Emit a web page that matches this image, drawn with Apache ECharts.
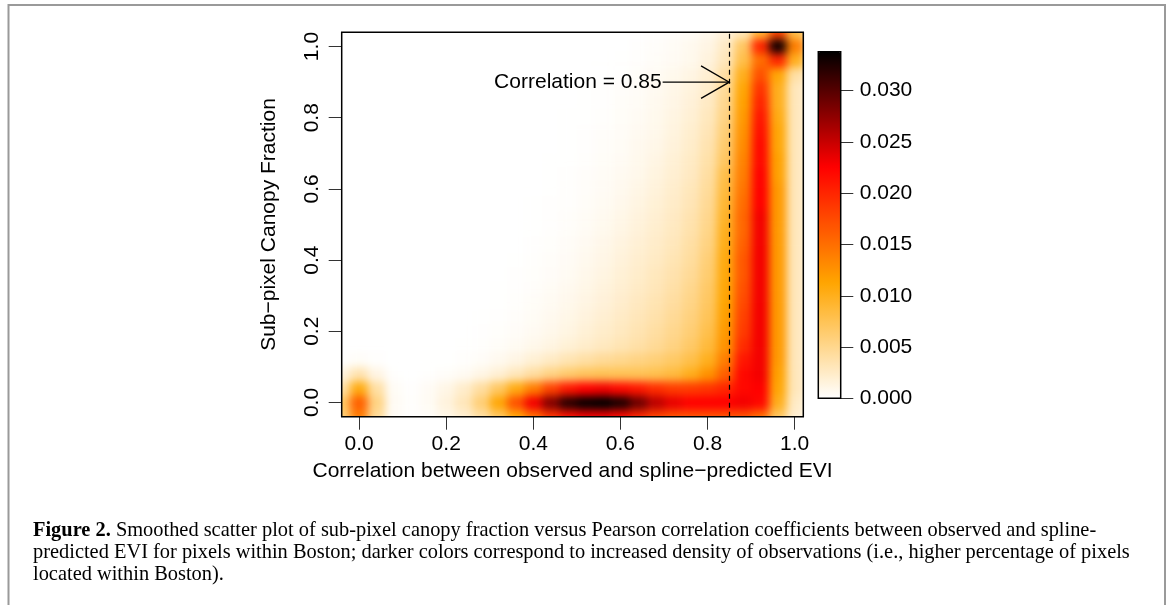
<!DOCTYPE html>
<html>
<head>
<meta charset="utf-8">
<script src="https://cdn.jsdelivr.net/npm/echarts@6/dist/echarts.min.js"></script>
<style>
  html, body { margin: 0; padding: 0; background: #ffffff; width: 1171px; height: 605px; overflow: hidden; }
  #heatClip { position: absolute; overflow: hidden; }
  #heat { position: absolute; filter: blur(4px); }
  #main { position: absolute; left: 0; top: 0; width: 1171px; height: 605px; }
</style>
</head>
<body>
<div id="heatClip"><div id="heat"></div></div>
<div id="main"></div>
<script>
// ---------------- data ----------------
// cell centres of the smoothed-density grid
const X_CELLS = [-0.04, 0.00, 0.04, 0.08, 0.12, 0.16, 0.20, 0.24, 0.28, 0.32, 0.36, 0.40, 0.44, 0.48,
                 0.52, 0.56, 0.60, 0.64, 0.68, 0.72, 0.76, 0.80, 0.84, 0.88, 0.92, 0.96, 1.00, 1.04];
// rows listed from top (y = 1.04) to bottom (y = -0.04)
const Y_CELLS = [1.04, 1.00, 0.96, 0.92, 0.88, 0.84, 0.80, 0.76, 0.72, 0.68, 0.64, 0.60, 0.56, 0.52,
                 0.48, 0.44, 0.40, 0.36, 0.32, 0.28, 0.24, 0.20, 0.16, 0.12, 0.08, 0.04, 0.00, -0.04];
// density values in units of 0.001, one row per Y_CELLS entry, one column per X_CELLS entry
const DENSITY_UNIT = 0.001;
const DENSITY = [
  [0,0,0,0,0,0,0,0,0,0,0,0,0,0,0,0,0,0,0.1,0.2,0.4,0.8,1.6,3,9,18,8,2.5],
  [0,0,0,0,0,0,0,0,0,0,0,0,0,0,0,0,0,0.1,0.2,0.4,0.7,1.2,2.5,7,20,33,14,4],
  [0,0,0,0,0,0,0,0,0,0,0,0,0,0,0,0,0.05,0.15,0.3,0.5,0.8,1.5,3,8,15,20,10,3],
  [0,0,0,0,0,0,0,0,0,0,0,0,0,0,0,0.05,0.1,0.3,0.5,0.8,1.2,2,4,10,17,11,4,1.5],
  [0,0,0,0,0,0,0,0,0,0,0,0,0,0,0.05,0.1,0.2,0.35,0.6,1.0,1.5,2.3,4.5,11,19,10,3,0.8],
  [0,0,0,0,0,0,0,0,0,0,0,0,0,0,0.05,0.1,0.25,0.4,0.7,1.1,1.7,2.6,5,11.5,20,10,3,0.8],
  [0,0,0,0,0,0,0,0,0,0,0,0,0,0.03,0.05,0.15,0.3,0.5,0.8,1.3,1.9,2.9,5.5,12,21,10.5,3,0.8],
  [0,0,0,0,0,0,0,0,0,0,0,0,0,0.05,0.1,0.2,0.35,0.6,0.9,1.4,2.1,3.2,6,12.5,21.5,11,3,0.8],
  [0,0,0,0,0,0,0,0,0,0,0,0,0,0.05,0.1,0.25,0.4,0.7,1.0,1.6,2.3,3.5,6.5,13,22,11,3,0.8],
  [0,0,0,0,0,0,0,0,0,0,0,0,0.03,0.05,0.15,0.3,0.5,0.8,1.2,1.8,2.5,3.8,7,13.5,22,11.5,3,0.8],
  [0,0,0,0,0,0,0,0,0,0,0,0,0.05,0.1,0.2,0.4,0.6,0.9,1.4,2.0,2.7,4.1,8,14,22.5,11.5,3,0.8],
  [0,0,0,0,0,0,0,0,0,0,0,0.02,0.05,0.12,0.25,0.45,0.7,1.1,1.6,2.2,3.0,4.4,8.5,14.5,22.5,12,3,0.8],
  [0,0,0,0,0,0,0,0,0,0,0,0.03,0.07,0.15,0.3,0.55,0.85,1.3,1.8,2.4,3.2,4.7,9,15,22.5,12,3,0.8],
  [0,0,0,0,0,0,0,0,0,0,0,0.03,0.1,0.2,0.4,0.65,1.0,1.5,2.0,2.6,3.5,5.0,9.5,15.5,23,12,3,0.8],
  [0,0,0,0,0,0,0,0,0,0,0,0.05,0.13,0.28,0.5,0.8,1.2,1.7,2.2,2.8,3.7,5.3,10,15.5,23,12,3,0.8],
  [0,0,0,0,0,0,0,0,0,0,0.02,0.08,0.18,0.35,0.6,0.95,1.4,1.9,2.4,3.0,4.0,5.6,10.3,16,23,12,3,0.8],
  [0,0,0,0,0,0,0,0,0,0,0.04,0.12,0.25,0.45,0.75,1.1,1.6,2.1,2.6,3.3,4.3,6.0,10.6,16.5,23,12,3,0.8],
  [0,0,0,0,0,0,0,0,0,0.02,0.07,0.16,0.32,0.55,0.9,1.3,1.8,2.3,2.9,3.6,4.6,6.3,10.8,16.5,23,12,3,0.8],
  [0,0,0,0,0,0,0,0,0,0.04,0.1,0.22,0.42,0.7,1.05,1.5,2.0,2.5,3.1,3.9,5.0,6.7,11,17,23,12,3,0.8],
  [0,0,0,0,0,0,0,0,0.02,0.06,0.15,0.3,0.55,0.85,1.25,1.7,2.2,2.8,3.4,4.2,5.3,7.0,11.3,17.5,23,12,3,0.8],
  [0,0,0,0,0,0,0,0,0.04,0.1,0.22,0.42,0.7,1.05,1.5,2.0,2.5,3.1,3.7,4.6,5.7,7.4,11.6,18,23,12,3,0.8],
  [0,0,0,0,0,0,0,0.02,0.07,0.16,0.33,0.58,0.9,1.3,1.8,2.3,2.8,3.4,4.1,5.0,6.1,7.9,12,18.5,23,12,3,0.8],
  [0,0,0,0,0,0,0.02,0.05,0.14,0.3,0.55,0.9,1.3,1.8,2.3,2.8,3.3,3.9,4.6,5.5,6.7,8.6,12.5,19.5,23,12,3,0.8],
  [0.1,0.3,0.1,0,0,0.05,0.05,0.15,0.35,0.7,1.2,1.9,2.6,3.4,4.0,4.6,5.0,5.5,6.0,6.8,8,10,14,21,23,12,3,0.8],
  [1.5,3.5,1.2,0.1,0,0.1,0.25,0.55,1.1,1.9,3,4.2,5.5,6.5,7.2,7.5,7.5,7.5,7.8,8.5,10,12.5,16,22,23,11.5,3,0.8],
  [4,10.5,4,0.4,0.1,0.45,1.1,2.3,4.2,7,10.5,14,18,21,22.5,23,22,21,19.5,18.5,18.5,19,20,22,22.5,11,3,0.8],
  [7,16,5.5,0.5,0.15,0.5,1.5,3,6,11,17,23,28,32,33.5,33.8,32.5,29,25.5,23.5,22.5,22.5,22.5,23,22,10,2.5,0.6],
  [6,14,4.5,0.4,0.1,0.3,1,2,4,7,11,15,19,21.5,23,23,22,20,18,17,17,17,17,17,15,7,2,0.5]
];
const X_RANGE = [-0.04, 1.02];
const Y_RANGE = [-0.04, 1.04];
const X_TICKS = [0.0, 0.2, 0.4, 0.6, 0.8, 1.0];
const Y_TICKS = [0.0, 0.2, 0.4, 0.6, 0.8, 1.0];
const COLOR_MAX = 0.0338;
const COLOR_TICKS = [0.000, 0.005, 0.010, 0.015, 0.020, 0.025, 0.030];
const COLOR_RAMP = ['#ffffff', '#ffa500', '#ff0000', '#000000'];
const CORRELATION = 0.85;
const ARROW_FROM = [0.697, 0.90];
const ARROW_TO = [0.85, 0.90];
const ANNOT_TEXT = 'Correlation = 0.85';
const X_TITLE = 'Correlation between observed and spline\u2212predicted EVI';
const Y_TITLE = 'Sub\u2212pixel Canopy Fraction';
const CAPTION_BOLD = 'Figure 2.';
const CAPTION_LINES = [
  ' Smoothed scatter plot of sub-pixel canopy fraction versus Pearson correlation coefficients between observed and spline-',
  'predicted EVI for pixels within Boston; darker colors correspond to increased density of observations (i.e., higher percentage of pixels',
  'located within Boston).'
];

// ---------------- layout ----------------
const PLOT = { left: 341.7, top: 32.3, width: 461.6, height: 384.4 };
const CBAR = { left: 818.3, top: 51.7, width: 22.4, height: 346.6 };
const SANS = 'Liberation Sans';
const SERIF = 'Liberation Serif';
const FS = 21;
const CAP_FS = 20.4;

// ---------------- heatmap layer (blurred, clipped to the plot box) ----------------
const pxX = PLOT.width / (X_RANGE[1] - X_RANGE[0]);
const pxY = PLOT.height / (Y_RANGE[1] - Y_RANGE[0]);
const cw = X_CELLS[1] - X_CELLS[0];
const ch = Y_CELLS[0] - Y_CELLS[1];
const hx0 = X_CELLS[0] - cw / 2, hx1 = X_CELLS[X_CELLS.length - 1] + cw / 2;
const hyT = Y_CELLS[0] + ch / 2, hyB = Y_CELLS[Y_CELLS.length - 1] - ch / 2;

const clip = document.getElementById('heatClip');
clip.style.left = PLOT.left + 'px'; clip.style.top = PLOT.top + 'px';
clip.style.width = PLOT.width + 'px'; clip.style.height = PLOT.height + 'px';
const heatDiv = document.getElementById('heat');
const hW = (hx1 - hx0) * pxX, hH = (hyT - hyB) * pxY;
heatDiv.style.left = ((hx0 - X_RANGE[0]) * pxX) + 'px';
heatDiv.style.top = ((Y_RANGE[1] - hyT) * pxY) + 'px';
heatDiv.style.width = hW + 'px'; heatDiv.style.height = hH + 'px';

const heatData = [];
DENSITY.forEach((row, r) => row.forEach((v, c) => {
  heatData.push([c, Y_CELLS.length - 1 - r, v * DENSITY_UNIT]);
}));

const heat = echarts.init(heatDiv, null, { width: hW, height: hH });
heat.setOption({
  animation: false,
  grid: { left: 0, right: 0, top: 0, bottom: 0 },
  xAxis: { type: 'category', data: X_CELLS.map(String), show: false },
  yAxis: { type: 'category', data: Y_CELLS.slice().reverse().map(String), show: false },
  visualMap: { show: false, type: 'continuous', min: 0, max: COLOR_MAX, inRange: { color: COLOR_RAMP } },
  series: [{ type: 'heatmap', data: heatData, silent: true, itemStyle: { borderWidth: 0 }, emphasis: { disabled: true } }]
});

// ---------------- axes, colour bar, annotation, caption ----------------
const tickStyle = { color: '#333', width: 1 };
const main = echarts.init(document.getElementById('main'), null, { width: 1171, height: 605 });
main.setOption({
  animation: false,
  backgroundColor: 'transparent',
  textStyle: { fontFamily: SANS, color: '#000' },
  grid: [
    { left: PLOT.left, top: PLOT.top, width: PLOT.width, height: PLOT.height, show: true,
      borderColor: '#000', borderWidth: 1.5, backgroundColor: 'transparent', z: 10 },
    { left: CBAR.left, top: CBAR.top, width: CBAR.width, height: CBAR.height, show: true,
      borderColor: '#000', borderWidth: 1.5, backgroundColor: 'transparent', z: 10 }
  ],
  xAxis: [
    { type: 'value', gridIndex: 0, min: X_RANGE[0], max: X_RANGE[1],
      splitLine: { show: false }, axisLine: { show: false, onZero: false },
      axisTick: { show: true, inside: false, length: 13, customValues: X_TICKS, lineStyle: tickStyle },
      axisLabel: { customValues: X_TICKS, formatter: v => v.toFixed(1), fontSize: FS, fontFamily: SANS, color: '#000', margin: 17 },
      name: X_TITLE, nameLocation: 'middle', nameGap: 44,
      nameTextStyle: { fontSize: FS, fontFamily: SANS, color: '#000' } },
    { type: 'value', gridIndex: 1, min: 0, max: 1, show: false, axisLine: { onZero: false } }
  ],
  yAxis: [
    { type: 'value', gridIndex: 0, min: Y_RANGE[0], max: Y_RANGE[1],
      splitLine: { show: false }, axisLine: { show: false, onZero: false },
      axisTick: { show: true, inside: false, length: 13, customValues: Y_TICKS, lineStyle: tickStyle },
      axisLabel: { customValues: Y_TICKS, formatter: v => v.toFixed(1), rotate: 90, fontSize: FS, fontFamily: SANS, color: '#000', margin: 19 },
      name: Y_TITLE, nameLocation: 'middle', nameGap: 62, nameRotate: 90,
      nameTextStyle: { fontSize: FS, fontFamily: SANS, color: '#000' } },
    { type: 'value', gridIndex: 1, position: 'right', min: 0, max: COLOR_MAX,
      splitLine: { show: false }, axisLine: { show: false, onZero: false },
      axisTick: { show: true, inside: false, length: 12.6, customValues: COLOR_TICKS, lineStyle: tickStyle },
      axisLabel: { customValues: COLOR_TICKS, formatter: v => v.toFixed(3), fontSize: FS, fontFamily: SANS, color: '#000', margin: 19 } }
  ],
  visualMap: [{
    type: 'continuous', seriesIndex: [], min: 0, max: COLOR_MAX,
    left: CBAR.left, top: CBAR.top, itemWidth: CBAR.width, itemHeight: CBAR.height,
    padding: 0, calculable: false, hoverLink: false, inRange: { color: COLOR_RAMP }
  }],
  series: [
    { type: 'line', xAxisIndex: 0, yAxisIndex: 0, data: [], silent: true,
      markLine: { silent: true, symbol: 'none', animation: false,
        label: { show: false },
        lineStyle: { color: '#000', width: 1.2, type: [5, 4] },
        data: [{ xAxis: CORRELATION }] } },
    { type: 'custom', xAxisIndex: 0, yAxisIndex: 0, silent: true, clip: false,
      data: [[ARROW_FROM[0], ARROW_FROM[1], ARROW_TO[0], ARROW_TO[1]]],
      renderItem: function (params, api) {
        const p0 = api.coord([api.value(0), api.value(1)]);
        const p1 = api.coord([api.value(2), api.value(3)]);
        const ang = Math.atan2(p1[1] - p0[1], p1[0] - p0[0]);
        const L = 32.6, a = Math.PI / 6;
        const h1 = [p1[0] - L * Math.cos(ang - a), p1[1] - L * Math.sin(ang - a)];
        const h2 = [p1[0] - L * Math.cos(ang + a), p1[1] - L * Math.sin(ang + a)];
        return { type: 'group', children: [
          { type: 'line', shape: { x1: p0[0], y1: p0[1], x2: p1[0], y2: p1[1] }, style: { stroke: '#000', lineWidth: 1.3 } },
          { type: 'polyline', shape: { points: [h1, p1, h2] }, style: { stroke: '#000', lineWidth: 1.3, fill: null } },
          { type: 'text', x: p0[0] - 1, y: p0[1],
            style: { text: ANNOT_TEXT, align: 'right', verticalAlign: 'middle', fontSize: FS, fontFamily: SANS, fill: '#000' } }
        ] };
      } }
  ],
  graphic: [
    { type: 'rect', silent: true, shape: { x: 8.5, y: 5, width: 1156.5, height: 700 },
      style: { fill: null, stroke: '#9a9a9a', lineWidth: 2 } },
    { type: 'text', silent: true, x: 33, y: 531,
      style: { text: '{b|' + CAPTION_BOLD + '}{n|' + CAPTION_LINES[0] + '}', verticalAlign: 'middle',
        rich: { b: { fontFamily: SERIF, fontSize: CAP_FS, fontWeight: 'bold', fill: '#000' },
                n: { fontFamily: SERIF, fontSize: CAP_FS, fill: '#000' } } } },
    { type: 'text', silent: true, x: 33, y: 553,
      style: { text: CAPTION_LINES[1], verticalAlign: 'middle', fontFamily: SERIF, fontSize: CAP_FS, fill: '#000' } },
    { type: 'text', silent: true, x: 33, y: 575,
      style: { text: CAPTION_LINES[2], verticalAlign: 'middle', fontFamily: SERIF, fontSize: CAP_FS, fill: '#000' } }
  ]
});
</script>
</body>
</html>
